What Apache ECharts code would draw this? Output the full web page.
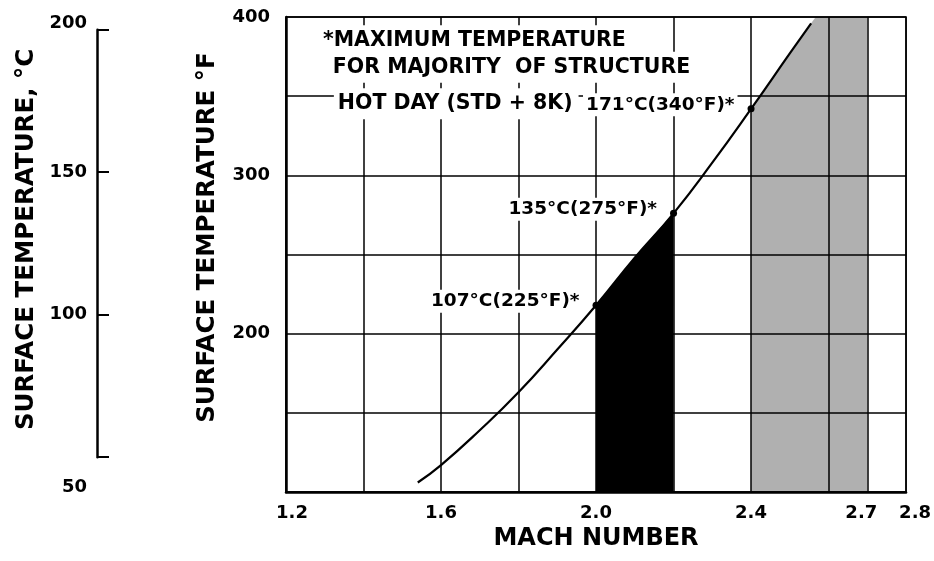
<!DOCTYPE html>
<html><head><meta charset="utf-8">
<script src="https://cdn.jsdelivr.net/npm/echarts@6/dist/echarts.min.js"></script>
<style>html,body{margin:0;padding:0;background:#fff}#c{width:934px;height:561px}</style>
</head><body><div id="c"></div>
<script>
// ---- data ----
const machTicks = [1.2, 1.6, 2.0, 2.4, 2.7, 2.8];
const fTicks = [200, 300, 400];
const cTicks = [50, 100, 150, 200];
const curveMach = [1.54, 1.60, 1.70, 1.80, 1.90, 2.0, 2.1, 2.2, 2.3, 2.4, 2.5, 2.555];
const curveF    = [106, 117, 139, 163, 190, 218, 248, 276, 308, 342, 377, 396];
const blackMach = [2.0, 2.1, 2.2];
const blackF    = [218, 248, 276];
const grayMach  = [2.4, 2.5, 2.555, 2.567, 2.7];
const grayF     = [342, 377, 396, 400, 400];
const grayEdgeMach = [2.7];
const markMach  = [2.0, 2.2, 2.4];
const markF     = [218, 276, 342];
const markLabels = ['107°C(225°F)*', '135°C(275°F)*', '171°C(340°F)*'];
const noteLines = ['*MAXIMUM TEMPERATURE', 'FOR MAJORITY  OF STRUCTURE', 'HOT DAY (STD + 8K)'];
const noteMach  = [1.285, 1.3106, 1.3235];
const noteF     = [385, 368.3, 345.2];

// ---- layout / style ----
const FONT = 'DejaVu Sans';
const G = {left: 286, right: 26, top: 17, bottom: 69};
const plotH = 561 - G.top - G.bottom;
const fMin = 100, fMax = 400;
const c2f = c => c * 1.8 + 32;
const yOfF = f => G.top + (fMax - f) / (fMax - fMin) * plotH;
const cTop = yOfF(c2f(200)), cBot = yOfF(c2f(50));
const zip = (a, b) => a.map((v, i) => [v, b[i]]);
const txt = (size) => ({fontFamily: FONT, fontWeight: 'bold', fontSize: size, color: '#000'});

const chart = echarts.init(document.getElementById('c'));
chart.setOption({
  animation: false,
  backgroundColor: '#fff',
  grid: [
    {left: G.left, right: G.right, top: G.top, bottom: G.bottom, show: true, borderColor: '#000', borderWidth: 1.5, z: 1},
    {left: 97, width: 1, top: cTop, height: cBot - cTop, show: false}
  ],
  xAxis: [
    {
      type: 'value', gridIndex: 0, min: 1.2, max: 2.8, interval: 0.2, z: 1,
      axisLine: {lineStyle: {color: '#000', width: 2.5}},
      axisTick: {show: false},
      splitLine: {show: true, lineStyle: {color: '#000', width: 1.5}},
      axisLabel: {
        customValues: machTicks, margin: 12, ...txt(18),
        formatter: v => {
          const s = (+v).toFixed(1);
          const k = s === '1.2' ? 'r' : s === '2.7' ? 'l' : s === '2.8' ? 'rr' : 'n';
          return '{' + k + '|' + s + '}';
        },
        rich: {
          n: txt(18),
          r: {...txt(18), padding: [0, 0, 0, 12]},
          l: {...txt(18), padding: [0, 12, 0, 0]},
          rr: {...txt(18), padding: [0, 0, 0, 18]}
        }
      },
      name: 'MACH NUMBER', nameLocation: 'middle', nameGap: 31,
      nameTextStyle: txt(24)
    },
    {type: 'value', gridIndex: 1, min: 0, max: 1, show: false}
  ],
  yAxis: [
    {
      type: 'value', gridIndex: 0, min: fMin, max: fMax, interval: 50, z: 1,
      axisLine: {lineStyle: {color: '#000', width: 2.5}},
      axisTick: {show: false},
      splitLine: {show: true, lineStyle: {color: '#000', width: 1.5}},
      axisLabel: {customValues: fTicks, margin: 16, ...txt(18)},
      name: 'SURFACE TEMPERATURE °F', nameLocation: 'middle', nameGap: 66,
      nameTextStyle: {...txt(24.5), padding: [0, 0, 0, 34]}
    },
    {
      type: 'value', gridIndex: 1, min: 50, max: 200, interval: 50,
      axisLine: {show: true, onZero: false, lineStyle: {color: '#000', width: 2.5}},
      axisTick: {show: true, inside: true, length: 12, lineStyle: {color: '#000', width: 2}},
      splitLine: {show: false},
      axisLabel: {
        margin: 10, ...txt(18),
        formatter: v => v === 200 ? '{t|200}' : v === 50 ? '{b|50}' : '{n|' + v + '}',
        rich: {
          n: txt(18),
          t: {...txt(18), padding: [0, 0, 12, 0]},
          b: {...txt(18), padding: [60, 0, 0, 0]}
        }
      },
      name: 'SURFACE TEMPERATURE, °C', nameLocation: 'middle', nameGap: 58,
      nameTextStyle: {...txt(24.5), padding: [0, 0, 0, 8]}
    }
  ],
  series: [
    {
      type: 'line', xAxisIndex: 0, yAxisIndex: 0, z: 0, silent: true,
      data: zip(blackMach, blackF), symbol: 'none', smooth: true,
      lineStyle: {width: 0},
      areaStyle: {color: '#000', opacity: 1, origin: 'start'}
    },
    {
      type: 'line', xAxisIndex: 0, yAxisIndex: 0, z: 0, silent: true,
      data: zip(grayMach, grayF), symbol: 'none',
      lineStyle: {width: 0},
      areaStyle: {color: '#b0b0b0', opacity: 1, origin: 'start'},
      markLine: {
        silent: true, symbol: 'none', label: {show: false},
        lineStyle: {color: '#000', width: 1.5, type: 'solid'},
        data: grayEdgeMach.map(m => ({xAxis: m}))
      }
    },
    {
      type: 'line', xAxisIndex: 0, yAxisIndex: 0, z: 2, silent: true,
      data: zip(curveMach, curveF), symbol: 'none', smooth: true,
      lineStyle: {color: '#000', width: 2.2}
    },
    {
      type: 'scatter', xAxisIndex: 0, yAxisIndex: 0, z: 4, silent: true,
      data: zip(markMach, markF), symbolSize: 7, itemStyle: {color: '#000', opacity: 1},
      label: {
        show: true, position: 'left', distance: 10, offset: [0, -4],
        backgroundColor: '#fff', padding: [2, 3, 2, 3], ...txt(18.5),
        formatter: p => markLabels[p.dataIndex]
      }
    },
    {
      type: 'scatter', xAxisIndex: 0, yAxisIndex: 0, z: 4, silent: true,
      data: zip(noteMach, noteF), symbolSize: 0, itemStyle: {color: '#000', opacity: 1},
      label: {
        show: true, position: 'right', distance: 0,
        backgroundColor: '#fff', padding: [5, 6, 5, 4], ...txt(20.5),
        formatter: p => noteLines[p.dataIndex]
      }
    }
  ]
});
</script></body></html>
